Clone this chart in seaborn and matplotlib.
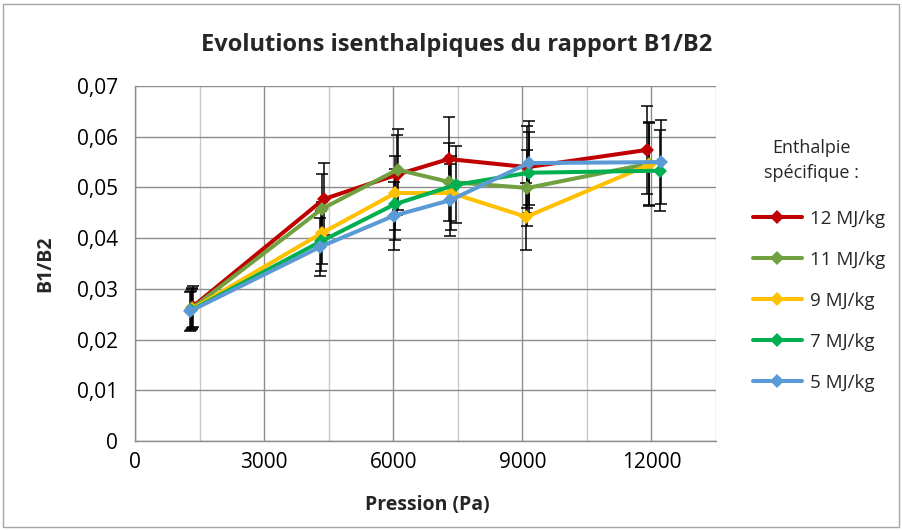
import matplotlib
matplotlib.use("Agg")
import matplotlib.pyplot as plt
import seaborn as sns
import pandas as pd
from matplotlib.ticker import MultipleLocator, FuncFormatter
from matplotlib.patches import Rectangle

# ---------------- Données ----------------
series = ['12 MJ/kg', '11 MJ/kg', '9 MJ/kg', '7 MJ/kg', '5 MJ/kg']
colores = ['#C00000', '#70A040', '#FFC000', '#00B050', '#5B9BD5']

p_12 = [1340, 4390, 6080, 7290, 9120, 11900]
b_12 = [0.0265, 0.0477, 0.0525, 0.0556, 0.0540, 0.0574]
p_11 = [1330, 4350, 6100, 7290, 9120, 11950]
b_11 = [0.0262, 0.0458, 0.0535, 0.0511, 0.0499, 0.0547]
p_9 = [1320, 4340, 6050, 7350, 9090, 11950]
b_9 = [0.0260, 0.0410, 0.0489, 0.0489, 0.0442, 0.0545]
p_7 = [1310, 4330, 6040, 7450, 9150, 12200]
b_7 = [0.0258, 0.0394, 0.0467, 0.0505, 0.0529, 0.0533]
p_5 = [1280, 4310, 6010, 7330, 9150, 12230]
b_5 = [0.0256, 0.0383, 0.0444, 0.0475, 0.0548, 0.0550]

err_rel = 0.15  # barres d'erreur en pourcentage (15 %)

pressions = [p_12, p_11, p_9, p_7, p_5]
rapports = [b_12, b_11, b_9, b_7, b_5]

df = pd.concat([pd.DataFrame({'Pression': p, 'B1/B2': b, 'Enthalpie': s})
                for s, p, b in zip(series, pressions, rapports)], ignore_index=True)

# ---------------- Figure ----------------
sns.set_theme(style="white")
plt.rcParams['font.family'] = ['Open Sans', 'DejaVu Sans']

fig = plt.figure(figsize=(9.02, 5.30), dpi=100)
ax = fig.add_axes([135/902, 1-441/530, 581/902, 355/530])

# Barres d'erreur
for s, p, b in zip(series, pressions, rapports):
    ax.errorbar(p, b, yerr=[v*err_rel for v in b], fmt='none', ecolor='black',
                elinewidth=1.1, capsize=4.5, capthick=1.1, zorder=3)

# Courbes
for s, c in zip(series, colores):
    d = df[df['Enthalpie'] == s]
    sns.lineplot(data=d, x='Pression', y='B1/B2', color=c, marker='D', markersize=7.5,
                 markeredgewidth=0, linewidth=2.9, sort=False, label=s, ax=ax, zorder=4)

# Axes
ax.set_xlim(0, 13500)
ax.set_ylim(0, 0.07)
ax.xaxis.set_major_locator(MultipleLocator(3000))
ax.xaxis.set_minor_locator(MultipleLocator(1500))
ax.yaxis.set_major_locator(MultipleLocator(0.01))
ax.grid(True, which='major', color='#8C8C8C', linewidth=1)
ax.grid(True, which='minor', axis='x', color='#C8C8C8', linewidth=1)
ax.set_axisbelow(True)
for side in ['top', 'right']:
    ax.spines[side].set_visible(False)
for side in ['left', 'bottom']:
    ax.spines[side].set_color('#8C8C8C')
    ax.spines[side].set_linewidth(1)

ax.yaxis.set_major_formatter(FuncFormatter(lambda v, pos: '0' if abs(v) < 1e-9 else f'{v:.2f}'.replace('.', ',')))
ax.xaxis.set_major_formatter(FuncFormatter(lambda v, pos: f'{v:.0f}'))
ax.tick_params(axis='both', which='both', length=0, labelsize=15, colors='black')
ax.tick_params(axis='y', pad=12)
ax.tick_params(axis='x', pad=8)

ax.set_xlabel('Pression (Pa)', fontsize=14, fontweight='bold')
ax.set_ylabel('B1/B2', fontsize=14, fontweight='bold')
ax.xaxis.set_label_coords(0.503, -0.152)
ax.yaxis.set_label_coords(-0.137, 0.5)

fig.text(457/902, 1-45/530, 'Evolutions isenthalpiques du rapport B1/B2',
         ha='center', va='center', fontsize=17, fontweight='bold')

# Légende (titre posé à part)
fig.text(811/902, 1-148/530, 'Enthalpie', ha='center', va='center', fontsize=13)
fig.text(811/902, 1-173/530, 'spécifique :', ha='center', va='center', fontsize=13)
leg = ax.legend(loc='upper left',
                bbox_to_anchor=(738/902, 1-195/530), bbox_transform=fig.transFigure,
                frameon=False, fontsize=13.5, labelspacing=1.22, borderpad=0.3,
                handlelength=2.6, handletextpad=0.45)

# Cadre du graphique
fig.add_artist(Rectangle((3/902, 3/530), 896/902, 523/530, transform=fig.transFigure,
                         fill=False, edgecolor='#A6A6A6', linewidth=1))

fig.savefig('out.png', dpi=100)
